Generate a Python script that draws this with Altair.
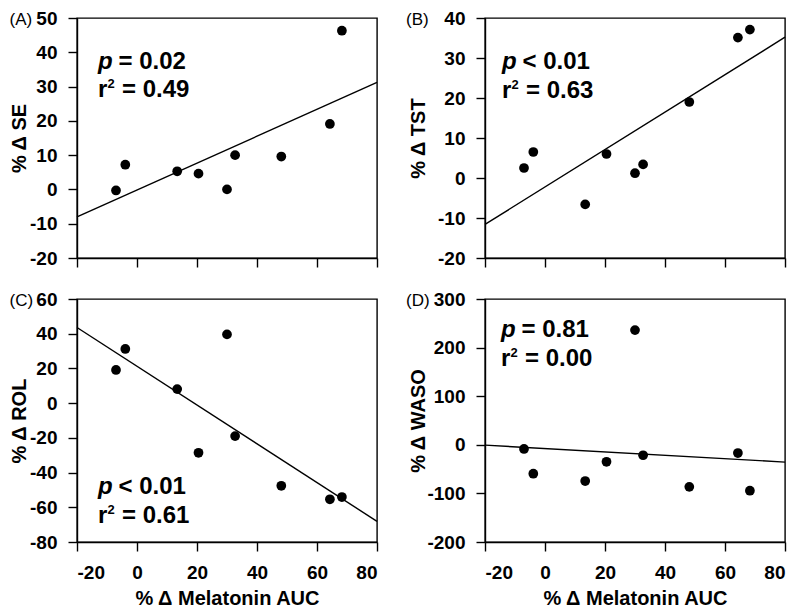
import altair as alt
import pandas as pd

FONT = "Liberation Sans"

# ---- data ----
melatonin_auc = [-7.0, -3.9, 13.4, 20.5, 30.0, 32.7, 48.1, 64.3, 68.3]
se_change = [-0.3, 7.2, 5.3, 4.6, 0.0, 10.0, 9.6, 19.1, 46.3]
tst_change = [2.5, 6.5, -6.6, 6.0, 1.2, 3.4, 19.0, 35.1, 37.1]
rol_change = [19.1, 31.2, 8.1, -28.6, 39.6, -19.0, -47.6, -55.4, -54.1]
waso_change = [-8.5, -59.5, -74.5, -35.0, 236.0, -21.5, -86.5, -17.0, -94.5]

fit_x = [-20, 80]
fit_se = [-8.0, 31.2]
fit_tst = [-11.6, 35.2]
fit_rol = [43.6, -68.1]
fit_waso = [-0.7, -35.6]

panel_labels = ["(A)", "(B)", "(C)", "(D)"]
y_titles = ["% Δ SE", "% Δ TST", "% Δ ROL", "% Δ WASO"]
y_domains = [[-20, 50], [-20, 40], [-80, 60], [-200, 300]]
y_ticks = [
    [-20, -10, 0, 10, 20, 30, 40, 50],
    [-20, -10, 0, 10, 20, 30, 40],
    [-80, -60, -40, -20, 0, 20, 40, 60],
    [-200, -100, 0, 100, 200, 300],
]
x_ticks = [-20, 0, 20, 40, 60, 80]
x_title = "% Δ Melatonin AUC"
p_texts = ["= 0.02", "< 0.01", "< 0.01", "= 0.81"]
r2_texts = ["= 0.49", "= 0.63", "= 0.61", "= 0.00"]

series = [se_change, tst_change, rol_change, waso_change]
fits = [fit_se, fit_tst, fit_rol, fit_waso]

# ---- layout (pixels, relative to each plot area) ----
ann_x = [21, 17, 21, 16]
ann_base1 = [50.5, 50.5, 195, 37.5]
ann_base2 = [79, 79.5, 224, 66.5]
label_x = [-67.5, -79]
ytitle_x = [-57.5, -67]

AXIS_STYLE = dict(
    grid=False,
    domainColor="black", domainWidth=1.4,
    tickColor="black", tickWidth=1.4, tickSize=9,
    labelFont=FONT, labelFontSize=19, labelFontWeight="bold", labelColor="black",
    titleFont=FONT, titleFontSize=20, titleFontWeight="bold", titleColor="black",
    labelExpr="'' + datum.value",
)


def text_layer(txt, x, y, size=24, style="normal", weight="bold", baseline="alphabetic"):
    return (
        alt.Chart(pd.DataFrame({"t": [txt]}))
        .mark_text(align="left", baseline=baseline, font=FONT, fontSize=size,
                   fontStyle=style, fontWeight=weight, color="black")
        .encode(x=alt.value(x), y=alt.value(y), text="t:N")
    )


def panel(i):
    top = i < 2
    col = i % 2
    h = 240 if top else 243
    pts = pd.DataFrame({"x": melatonin_auc, "y": series[i]})
    fit = pd.DataFrame({"x": fit_x, "y": fits[i]})

    xaxis = alt.Axis(values=x_ticks, labels=not top, labelPadding=12,
                     titleX=150, titleY=62, titleBaseline="alphabetic", titleAlign="center",
                     **AXIS_STYLE)
    yaxis = alt.Axis(values=y_ticks[i], labelPadding=11,
                     titleX=ytitle_x[col], titleY=h / 2, titleBaseline="middle", titleAlign="center",
                     **AXIS_STYLE)
    xenc = alt.X("x:Q", scale=alt.Scale(domain=[-20, 80], nice=False, zero=False),
                 title="" if top else x_title, axis=xaxis)
    yenc = alt.Y("y:Q", scale=alt.Scale(domain=y_domains[i], nice=False, zero=False),
                 title=y_titles[i], axis=yaxis)

    line = alt.Chart(fit).mark_line(color="black", strokeWidth=1.4).encode(x=xenc, y=yenc)
    dots = alt.Chart(pts).mark_circle(size=95, color="black", opacity=1).encode(x=xenc, y=yenc)

    px = ann_x[i]
    b1 = ann_base1[i]
    b2 = ann_base2[i]
    layers = [
        line,
        dots,
        text_layer(panel_labels[i], label_x[col], 2, size=17, weight="normal", baseline="middle"),
        text_layer("p", px, b1, style="italic"),
        text_layer(p_texts[i], px + 20.5, b1),
        text_layer("r", px, b2),
        text_layer("2", px + 9.5, b2 - 9, size=13),
        text_layer(r2_texts[i], px + 24, b2),
    ]
    return alt.layer(*layers).properties(width=300, height=h)


chart = (
    alt.concat(*[panel(i) for i in range(4)], columns=2,
               spacing={"row": 41, "column": 108}, bounds="flush")
    .properties(padding=0)
    .configure_view(stroke="black", strokeWidth=1.4)
)

chart.save("out.html", embed_options={"renderer": "svg", "actions": False})
